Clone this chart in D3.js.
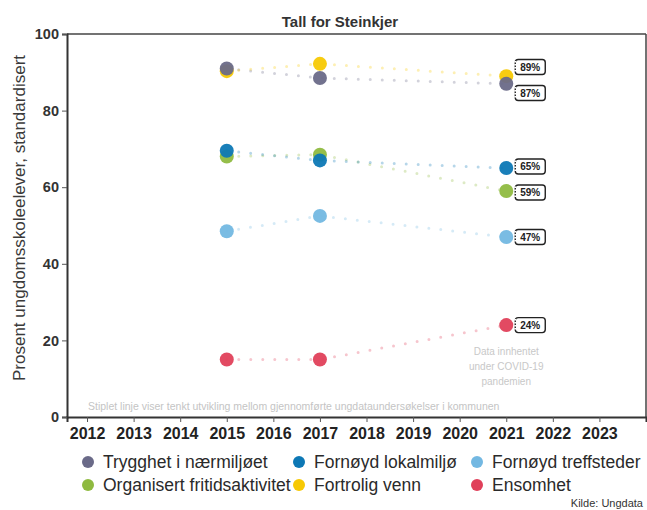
<!DOCTYPE html>
<html>
<head>
<meta charset="utf-8">
<script src="https://cdn.jsdelivr.net/npm/d3@7"></script>
<style>
  body { margin: 0; background: #fff; }
  text { font-family: "Liberation Sans", Arial, sans-serif; }
</style>
</head>
<body>
<div id="chart"></div>
<script>
// survey years and series (percent)
const years = [2015, 2017, 2021]
const seriesNames = ['Trygghet i nærmiljøet', 'Organisert fritidsaktivitet', 'Fornøyd lokalmiljø', 'Fortrolig venn', 'Fornøyd treffsteder', 'Ensomhet']
const trygghet = [91, 88.5, 87]
const organisert = [68, 68.5, 59]
const lokalmiljo = [69.5, 67, 65]
const fortrolig = [90.3, 92.2, 89]
const treffsteder = [48.5, 52.5, 47]
const ensomhet = [15, 15, 24]
const colors = ['#6a6a88', '#8fba40', '#0d78b5', '#f7c904', '#73b8e2', '#e0405a']
const xTicks = [2012, 2013, 2014, 2015, 2016, 2017, 2018, 2019, 2020, 2021, 2022, 2023]
const yTicks = [0, 20, 40, 60, 80, 100]

const allValues = [trygghet, organisert, lokalmiljo, fortrolig, treffsteder, ensomhet]
const series = seriesNames.map((name, i) => ({
    name: name,
    color: colors[i],
    values: years.map((y, j) => ({ year: y, value: allValues[i][j] }))
}))

const width = 647
const height = 510
const margin = { top: 34, right: 1, bottom: 93, left: 67 }

const svg = d3.select('#chart')
    .append('svg')
    .attr('width', width)
    .attr('height', height)

const xScale = d3.scaleLinear()
    .domain([2011.57, 2024])
    .range([margin.left, width - margin.right])
const yScale = d3.scaleLinear()
    .domain([0, 100])
    .range([height - margin.bottom, margin.top])

/* Title */
svg.append('text')
    .text('Tall for Steinkjer')
    .attr('x', 340)
    .attr('y', 27)
    .attr('text-anchor', 'middle')
    .style('font-weight', 'bold')
    .style('font-size', '15px')
    .attr('fill', '#333')

/* frame top + right */
svg.append('line')
    .attr('x1', margin.left).attr('x2', width - margin.right)
    .attr('y1', margin.top).attr('y2', margin.top)
    .attr('stroke', '#444').attr('stroke-width', 1.5)
svg.append('line')
    .attr('x1', width - margin.right).attr('x2', width - margin.right)
    .attr('y1', margin.top).attr('y2', height - margin.bottom)
    .attr('stroke', '#444').attr('stroke-width', 1.5)

/* x axis */
const xAxis = d3.axisBottom(xScale).tickValues(xTicks).tickFormat(d3.format('d')).tickSize(5).tickPadding(6)
const gx = svg.append('g')
    .attr('transform', `translate(0,${height - margin.bottom})`)
    .call(xAxis)
gx.select('.domain').attr('stroke', '#333').attr('stroke-width', 2)
gx.selectAll('.tick line').attr('stroke', '#555')
gx.selectAll('text')
    .style('font-size', '16px')
    .style('font-weight', 'bold')
    .attr('fill', '#222')

/* y axis */
const yAxis = d3.axisLeft(yScale).tickValues(yTicks).tickSize(5).tickPadding(3)
const gy = svg.append('g')
    .attr('transform', `translate(${margin.left},0)`)
    .call(yAxis)
gy.select('.domain').attr('stroke', '#333').attr('stroke-width', 2)
gy.selectAll('.tick line').attr('stroke', '#555')
gy.selectAll('text')
    .style('font-size', '14.5px')
    .style('font-weight', 'bold')
    .attr('fill', '#333')

/* y Label */
svg.append('text')
    .text('Prosent ungdomsskoleelever, standardisert')
    .attr('transform', 'translate(25,218) rotate(-90)')
    .attr('text-anchor', 'middle')
    .style('font-size', '17px')
    .attr('fill', '#3a3a3a')

/* footnote in plot */
svg.append('text')
    .text('Stiplet linje viser tenkt utvikling mellom gjennomførte ungdataundersøkelser i kommunen')
    .attr('x', 88)
    .attr('y', 410)
    .style('font-size', '10.5px')
    .attr('fill', '#c4c4c4')

/* covid note */
const note = ['Data innhentet', 'under COVID-19', 'pandemien']
svg.selectAll('.note')
    .data(note)
    .enter()
    .append('text')
    .attr('class', 'note')
    .text(d => d)
    .attr('x', xScale(2021))
    .attr('y', (d, i) => 355 + i * 15)
    .attr('text-anchor', 'middle')
    .style('font-size', '10px')
    .attr('fill', '#c8c8c8')

const line = d3.line()
    .x(d => xScale(d.year))
    .y(d => yScale(d.value))

/* dotted lines */
svg.selectAll('.trend')
    .data(series)
    .enter()
    .append('path')
    .attr('class', 'trend')
    .attr('d', d => line(d.values))
    .attr('fill', 'none')
    .attr('stroke', d => d.color)
    .attr('stroke-width', 3)
    .attr('stroke-linecap', 'round')
    .attr('stroke-dasharray', '0,12')
    .attr('opacity', 0.3)

/* points, drawn so the first series ends on top like the original */
const drawOrder = [4, 5, 1, 2, 3, 0]
drawOrder.forEach(i => {
    svg.selectAll(null)
        .data(series[i].values)
        .enter()
        .append('circle')
        .attr('cx', d => xScale(d.year))
        .attr('cy', d => yScale(d.value))
        .attr('r', 7)
        .attr('fill', series[i].color)
        .attr('opacity', 0.95)
})

/* value labels for latest year, pushed apart when close */
const lastIdx = years.length - 1
let labels = series.map(s => ({ value: s.values[lastIdx].value, y: yScale(s.values[lastIdx].value) }))
labels.sort((a, b) => a.y - b.y)
for (let i = 1; i < labels.length; i++) {
    const a = labels[i - 1], b = labels[i]
    if (b.y - a.y < 25) {
        const mid = (a.y + b.y) / 2
        a.y = mid - 13
        b.y = mid + 13
    }
}
const lx = xScale(2021) + 9
const labelG = svg.selectAll('.lbl')
    .data(labels)
    .enter()
    .append('g')
    .attr('class', 'lbl')
    .attr('transform', d => `translate(${lx},${d.y})`)
labelG.append('rect')
    .attr('x', 0).attr('y', -7.5)
    .attr('width', 30).attr('height', 15)
    .attr('rx', 3)
    .attr('fill', '#fff')
    .attr('stroke', '#222')
    .attr('stroke-width', 1.4)
labelG.append('line')
    .attr('x1', 0).attr('x2', 0)
    .attr('y1', -6).attr('y2', 6)
    .attr('stroke', '#fff')
    .attr('stroke-width', 2)
    .attr('stroke-dasharray', '1.5,1.5')
labelG.append('text')
    .text(d => d3.format('.0f')(d.value) + '%')
    .attr('x', 15)
    .attr('y', 3.8)
    .attr('text-anchor', 'middle')
    .style('font-size', '10px')
    .style('font-weight', 'bold')
    .attr('fill', '#222')

/* legend */
const legendCols = [88, 299, 477]
const legendOrder = [0, 2, 4, 1, 3, 5]
legendOrder.forEach((si, k) => {
    const col = k % 3
    const row = Math.floor(k / 3)
    const cx = legendCols[col]
    const cy = 462 + row * 23
    svg.append('circle')
        .attr('cx', cx)
        .attr('cy', cy)
        .attr('r', 6)
        .attr('fill', series[si].color)
    svg.append('text')
        .text(series[si].name)
        .attr('x', cx + 15)
        .attr('y', cy + 6)
        .style('font-size', '17.5px')
        .attr('fill', '#2a2a2a')
})

svg.append('text')
    .text('Kilde: Ungdata')
    .attr('x', 643)
    .attr('y', 507)
    .attr('text-anchor', 'end')
    .style('font-size', '11px')
    .attr('fill', '#333')
</script>
</body>
</html>
